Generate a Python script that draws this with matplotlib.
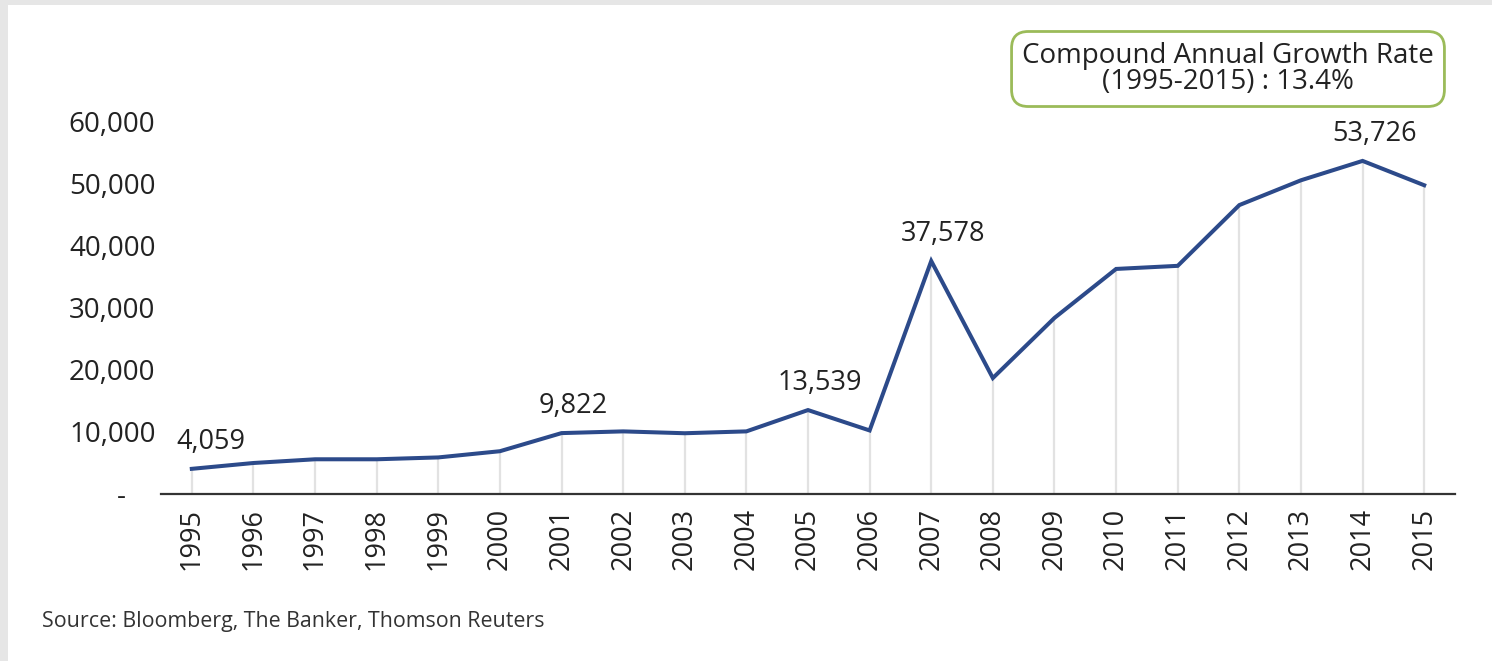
import numpy as np
import matplotlib.pyplot as plt
from matplotlib.patches import Rectangle

plt.rcParams['font.family'] = ['Open Sans', 'DejaVu Sans']

# data
years = [str(y) for y in range(1995, 2016)]
values = [4059, 5000, 5600, 5600, 5900, 6900, 9822, 10100, 9800, 10100,
          13539, 10250, 37578, 18700, 28400, 36300, 36800, 46600, 50600,
          53726, 49800]
labelled = {'1995': '4,059', '2001': '9,822', '2005': '13,539',
            '2007': '37,578', '2014': '53,726'}
yticks = [0, 10000, 20000, 30000, 40000, 50000, 60000]
yticklabels = ['-    ', '10,000', '20,000', '30,000', '40,000', '50,000', '60,000']

W, H = 1492, 661
fig = plt.figure(figsize=(W / 100, H / 100), dpi=100)
fig.patch.set_facecolor('#e6e6e6')
# white panel
fig.patches.append(Rectangle((8 / W, 0), 1, 1 - 5 / H, transform=fig.transFigure,
                             facecolor='white', edgecolor='none', zorder=-10))

ax = fig.add_axes([161 / W, 1 - 494 / H, 1294 / W, 372 / H])
ax.set_facecolor('none')

x = np.arange(len(years))
linecol = '#2c4a8a'
txtcol = '#222222'

# drop lines
ax.vlines(x, 0, values, color='#e2e2e2', lw=1.6, zorder=1)
ax.plot(x, values, color=linecol, lw=2.9, solid_joinstyle='miter', zorder=3)

for i, yr in enumerate(years):
    if yr in labelled:
        dx = 13.5 if yr == '1995' else 8.5
        ax.annotate(labelled[yr], (x[i], values[i]), xytext=(dx, 19.5),
                    textcoords='offset points', ha='center', va='center',
                    fontsize=19.5, color=txtcol)

ax.set_xlim(-0.5, len(years) - 0.5)
ax.set_ylim(0, 60000)
ax.set_xticks(x)
ax.set_xticklabels(years, rotation=90, fontsize=19.5, color=txtcol)
ax.set_yticks(yticks)
ax.set_yticklabels(yticklabels, fontsize=20, color=txtcol)
ax.tick_params(axis='both', length=0)
ax.tick_params(axis='x', pad=10)
ax.tick_params(axis='y', pad=4)

for s in ['top', 'right', 'left']:
    ax.spines[s].set_visible(False)
ax.spines['bottom'].set_color('#333333')
ax.spines['bottom'].set_linewidth(1.6)

# CAGR box
fig.text(1228 / W, 1 - 69 / H, 'Compound Annual Growth Rate\n(1995-2015) : 13.4%',
         ha='center', va='center', fontsize=20, color=txtcol, linespacing=0.9,
         bbox=dict(boxstyle='round,pad=0.38,rounding_size=0.6', fc='white',
                   ec='#9bbb59', lw=2))

fig.text(42 / W, 1 - 621 / H, 'Source: Bloomberg, The Banker, Thomson Reuters',
         ha='left', va='center', fontsize=15.4, color='#333333')

fig.savefig('out.png', dpi=100, facecolor=fig.get_facecolor())
